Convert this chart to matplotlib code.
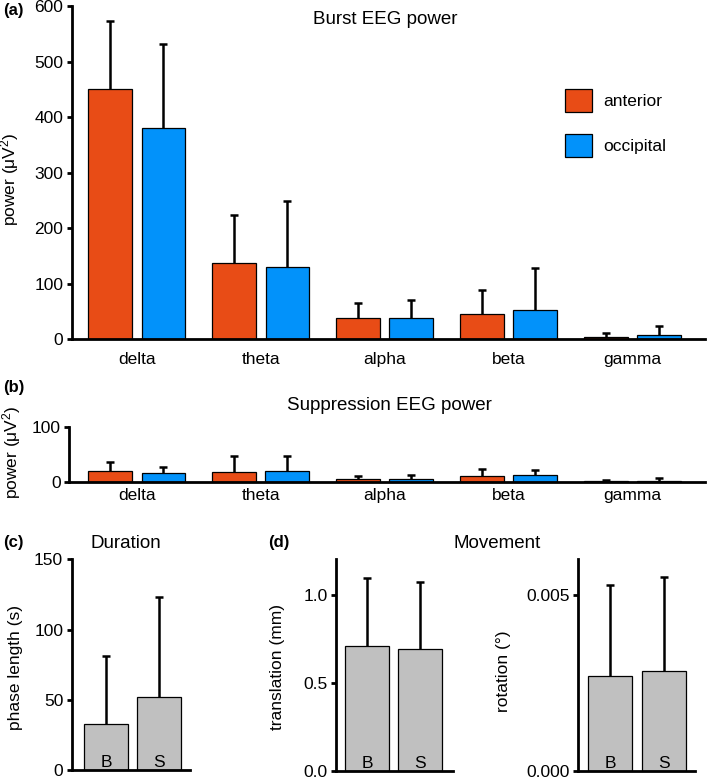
import numpy as np
import matplotlib
matplotlib.use('Agg')
import matplotlib.pyplot as plt
from matplotlib.ticker import FormatStrFormatter

plt.rcParams['font.family'] = ['Liberation Sans', 'DejaVu Sans']
plt.rcParams['mathtext.fontset'] = 'custom'
plt.rcParams['mathtext.rm'] = 'Liberation Sans'
plt.rcParams['mathtext.it'] = 'Liberation Sans:italic'
plt.rcParams['mathtext.bf'] = 'Liberation Sans:bold'

# ---------------- data ----------------
bands = ['delta', 'theta', 'alpha', 'beta', 'gamma']
series_names = ['anterior', 'occipital']

burst_anterior_mean = [450, 138, 38, 45, 4]
burst_anterior_sd = [123, 85, 27, 44, 8]
burst_occipital_mean = [381, 130, 38, 52, 8]
burst_occipital_sd = [150, 119, 33, 77, 16]

supp_anterior_mean = [19, 17, 5.5, 11, 1]
supp_anterior_sd = [17, 29, 4.5, 12, 2]
supp_occipital_mean = [15, 19, 5, 12, 1.5]
supp_occipital_sd = [12, 28, 7, 10, 4.5]

phases = ['B', 'S']
duration_mean = [33, 52]
duration_sd = [48, 71]
translation_mean = [0.71, 0.69]
translation_sd = [0.385, 0.38]
rotation_mean = [0.00269, 0.00283]
rotation_sd = [0.00258, 0.00266]

# ---------------- style ----------------
W, H = 709, 780
C_ANT = '#E84C16'
C_OCC = '#0292FA'
C_GREY = '#C0C0C0'
FS = 12.5
FS_TITLE = 13.5
SPINE_W = 2.0
ERR_W = 1.8
POWER_LABEL = r'power ($\mathrm{\mu}$V$^{\mathrm{2}}$)'

fig = plt.figure(figsize=(W / 100, H / 100), dpi=100)


def add_ax(left, right, top, bottom):
    return fig.add_axes([left / W, 1 - bottom / H, (right - left) / W, (bottom - top) / H])


def style(ax, xpad):
    for s in ['top', 'right']:
        ax.spines[s].set_visible(False)
    for s in ['left', 'bottom']:
        ax.spines[s].set_linewidth(SPINE_W)
    ax.tick_params(axis='y', direction='out', length=3.6, width=SPINE_W, pad=2.5, labelsize=FS)
    ax.tick_params(axis='x', length=0, pad=xpad, labelsize=FS)


def ylabel(ax, text, px_right, py_center):
    ax.set_ylabel(text, fontsize=FS)
    ax.yaxis.set_label_coords(px_right / W, 1 - py_center / H, transform=fig.transFigure)


def ftext(px, py, s, **kw):
    fig.text(px / W, 1 - py / H, s, va='baseline', **kw)


def upper_err(ax, x, m, sd):
    eb = ax.errorbar(x, m, yerr=[np.zeros(len(m)), sd], fmt='none', ecolor='black',
                     elinewidth=ERR_W, capsize=3, capthick=ERR_W, zorder=3)
    # hide the lower caps (one-sided error bars)
    caps = eb[1]
    if len(caps) == 2:
        caps[0].set_visible(False)


def grouped(ax, am, asd, om, osd):
    x = np.arange(len(bands))
    w, off = 0.3525, 0.215
    b1 = ax.bar(x - off, am, w, color=C_ANT, edgecolor='black', linewidth=0.9, label=series_names[0], zorder=2)
    b2 = ax.bar(x + off, om, w, color=C_OCC, edgecolor='black', linewidth=0.9, label=series_names[1], zorder=2)
    upper_err(ax, x - off, am, asd)
    upper_err(ax, x + off, om, osd)
    ax.set_xticks(x)
    ax.set_xticklabels(bands)
    return b1, b2


def phase_bars(ax, m, sd):
    x = np.arange(len(phases))
    ax.bar(x, m, 0.83, color=C_GREY, edgecolor='black', linewidth=0.9, zorder=2)
    upper_err(ax, x, m, sd)
    ax.set_xticks([])
    for xi, lab in zip(x, phases):
        ax.annotate(lab, (xi, 0), xytext=(0, 2.3), textcoords='offset points',
                    ha='center', va='baseline', fontsize=FS, zorder=4)


# ---------------- (a) burst ----------------
axA = add_ax(71.7, 705, 6, 339.3)
b1, b2 = grouped(axA, burst_anterior_mean, burst_anterior_sd, burst_occipital_mean, burst_occipital_sd)
axA.set_xlim(-0.525, 4.585)
axA.set_ylim(0, 600)
axA.set_yticks(np.arange(0, 601, 100))
style(axA, 8.9)
ylabel(axA, POWER_LABEL, 21.5, 179)
axA.legend(handles=[b1, b2], loc='upper left', bbox_to_anchor=(565 / W, 1 - 89 / H),
           bbox_transform=fig.transFigure, frameon=False, fontsize=FS,
           handlelength=1.55, handleheight=1.67, handletextpad=0.63, labelspacing=1.25,
           borderpad=0, borderaxespad=0)
ftext(385, 23.5, 'Burst EEG power', ha='center', fontsize=FS_TITLE)
ftext(3, 15, '(a)', ha='left', fontsize=12, fontweight='bold')

# ---------------- (b) suppression ----------------
axB = add_ax(69.3, 705, 426.7, 481.7)
grouped(axB, supp_anterior_mean, supp_anterior_sd, supp_occipital_mean, supp_occipital_sd)
axB.set_xlim(-0.544, 4.585)
axB.set_ylim(0, 100)
axB.set_yticks([0, 100])
style(axB, 4.5)
ylabel(axB, POWER_LABEL, 23, 452)
ftext(389.5, 409.5, 'Suppression EEG power', ha='center', fontsize=FS_TITLE)
ftext(3, 392, '(b)', ha='left', fontsize=12, fontweight='bold')

# ---------------- (c) duration ----------------
axC = add_ax(71.7, 190, 559.3, 770)
phase_bars(axC, duration_mean, duration_sd)
axC.set_xlim(-0.647, 1.585)
axC.set_ylim(0, 150)
axC.set_yticks([0, 50, 100, 150])
style(axC, 0)
ylabel(axC, 'phase length (s)', 23, 668)
ftext(125.8, 548, 'Duration', ha='center', fontsize=FS_TITLE)
ftext(3, 547, '(c)', ha='left', fontsize=12, fontweight='bold')

# ---------------- (d) movement ----------------
axD1 = add_ax(336, 452.7, 559.3, 770.7)
phase_bars(axD1, translation_mean, translation_sd)
axD1.set_xlim(-0.594, 1.608)
axD1.set_ylim(0, 1.2)
axD1.set_yticks([0, 0.5, 1.0])
axD1.yaxis.set_major_formatter(FormatStrFormatter('%.1f'))
style(axD1, 0)
ylabel(axD1, 'translation (mm)', 285, 667)

axD2 = add_ax(578.3, 695, 559.3, 770.7)
phase_bars(axD2, rotation_mean, rotation_sd)
axD2.set_xlim(-0.6, 1.586)
axD2.set_ylim(0, 0.006)
axD2.set_yticks([0, 0.005])
axD2.yaxis.set_major_formatter(FormatStrFormatter('%.3f'))
style(axD2, 0)
ylabel(axD2, 'rotation (°)', 511, 671)

ftext(497.5, 548, 'Movement', ha='center', fontsize=FS_TITLE)
ftext(268, 547, '(d)', ha='left', fontsize=12, fontweight='bold')

fig.savefig('out.png', dpi=100)
